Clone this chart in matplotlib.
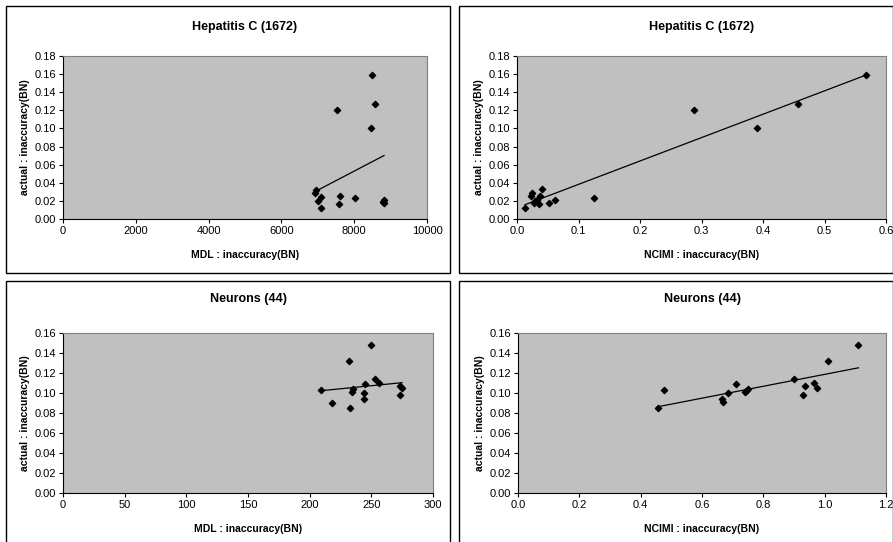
import matplotlib
matplotlib.use('Agg')
import matplotlib.pyplot as plt
import numpy as np
from matplotlib.patches import Rectangle

plt.rcParams['font.family'] = ['Liberation Sans', 'DejaVu Sans']

# Hepatitis C (1672)
hep_mdl = [6950, 6930, 7000, 7100, 7080, 7600, 7580, 8020, 8820, 8820, 8800, 7530, 8450, 8570, 8500]
hep_mdl_y = [0.032, 0.029, 0.020, 0.024, 0.012, 0.025, 0.017, 0.023, 0.021, 0.018, 0.019, 0.120, 0.100, 0.127, 0.159]
hep_ncimi = [0.013, 0.023, 0.025, 0.027, 0.030, 0.033, 0.035, 0.038, 0.040, 0.052, 0.062, 0.125,
             0.287, 0.390, 0.457, 0.568]
hep_ncimi_y = [0.012, 0.025, 0.029, 0.018, 0.020, 0.021, 0.017, 0.025, 0.033, 0.018, 0.021, 0.023,
               0.120, 0.100, 0.127, 0.159]

# Neurons (44)
neu_mdl = [209, 218, 232, 233, 234, 235, 244, 244, 245, 250, 253, 256, 273, 273, 275]
neu_mdl_y = [0.103, 0.090, 0.132, 0.085, 0.101, 0.104, 0.094, 0.100, 0.109, 0.148, 0.114, 0.110,
             0.098, 0.107, 0.105]
neu_ncimi = [0.455, 0.475, 0.665, 0.670, 0.685, 0.710, 0.740, 0.745, 0.750, 0.900, 0.930, 0.935,
             0.965, 0.975, 1.010, 1.110]
neu_ncimi_y = [0.085, 0.103, 0.094, 0.091, 0.100, 0.109, 0.101, 0.102, 0.104, 0.114, 0.098, 0.107,
               0.110, 0.105, 0.132, 0.148]

W, H = 893, 542
fig = plt.figure(figsize=(W / 100, H / 100), dpi=100)


def px(x0, y0, x1, y1):
    return [x0 / W, 1 - y1 / H, (x1 - x0) / W, (y1 - y0) / H]


def panel(box, area, x, y, title, xlabel, xlim, xticks, xfmt, ylim, yticks, tpad):
    bx0, by0, bx1, by1 = box
    fig.patches.append(Rectangle((bx0 / W, 1 - by1 / H), (bx1 - bx0) / W, (by1 - by0) / H,
                                 transform=fig.transFigure, fill=False, edgecolor='black', lw=1.0))
    ax = fig.add_axes(px(*area))
    ax.set_facecolor('#c0c0c0')
    ax.scatter(x, y, marker='D', s=10, color='black', zorder=3)
    k, b = np.polyfit(x, y, 1)
    xs = np.array([min(x), max(x)])
    ax.plot(xs, k * xs + b, color='black', lw=0.9, zorder=2)
    ax.set_xlim(xlim)
    ax.set_ylim(ylim)
    ax.set_xticks(xticks)
    ax.set_xticklabels([xfmt.format(t) for t in xticks], fontsize=8)
    ax.set_yticks(yticks)
    ax.set_yticklabels(['{:.2f}'.format(t) for t in yticks], fontsize=8)
    ax.tick_params(length=3, width=0.8, pad=2)
    ax.spines['top'].set_color('#808080')
    ax.spines['right'].set_color('#808080')
    for s in ax.spines.values():
        s.set_linewidth(0.8)
    ax.set_xlabel(xlabel, fontsize=7.5, fontweight='bold', labelpad=10)
    ax.set_ylabel('actual : inaccuracy(BN)', fontsize=7.5, fontweight='bold', labelpad=3)
    ax.set_title(title, fontsize=9, fontweight='bold', pad=tpad)
    return ax


panel((6, 6, 450, 273), (63, 56, 427, 219), hep_mdl, hep_mdl_y, 'Hepatitis C (1672)',
      'MDL : inaccuracy(BN)', (0, 10000), [0, 2000, 4000, 6000, 8000, 10000], '{:d}',
      (0, 0.18), np.arange(0, 0.181, 0.02), 19)
panel((459, 6, 893, 273), (517, 56, 886, 219), hep_ncimi, hep_ncimi_y, 'Hepatitis C (1672)',
      'NCIMI : inaccuracy(BN)', (0, 0.6), [0, 0.1, 0.2, 0.3, 0.4, 0.5, 0.6], '{:.1f}',
      (0, 0.18), np.arange(0, 0.181, 0.02), 19)
panel((6, 281, 450, 545), (63, 333, 433, 493), neu_mdl, neu_mdl_y, 'Neurons (44)',
      'MDL : inaccuracy(BN)', (0, 300), [0, 50, 100, 150, 200, 250, 300], '{:d}',
      (0, 0.16), np.arange(0, 0.161, 0.02), 22)
panel((459, 281, 893, 545), (518, 333, 886, 493), neu_ncimi, neu_ncimi_y, 'Neurons (44)',
      'NCIMI : inaccuracy(BN)', (0, 1.2), [0, 0.2, 0.4, 0.6, 0.8, 1.0, 1.2], '{:.1f}',
      (0, 0.16), np.arange(0, 0.161, 0.02), 22)

fig.savefig('out.png', dpi=100)
